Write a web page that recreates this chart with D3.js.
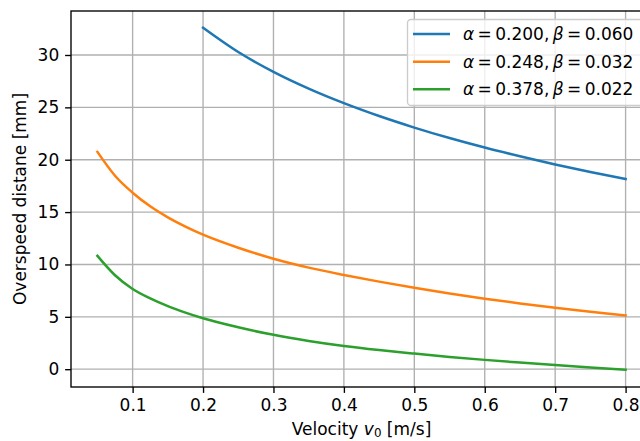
<!DOCTYPE html>
<html><head><meta charset="utf-8">
<script src="https://cdn.jsdelivr.net/npm/d3@7"></script>
<style>body{margin:0;background:#fff}svg{display:block}text{font-family:"DejaVu Sans",sans-serif;fill:#000}</style>
</head><body>
<svg id="c" width="640" height="441"></svg>
<script>
const xTicks = [0.1,0.2,0.3,0.4,0.5,0.6,0.7,0.8];
const yTicks = [0,5,10,15,20,25,30];
const blueV = [0.2,0.25,0.3,0.35,0.4,0.45,0.5,0.55,0.6,0.65,0.7,0.75,0.8];
const blueD = [32.6,30.28,28.39,26.79,25.4,24.17,23.07,22.07,21.16,20.33,19.55,18.82,18.15];
const orangeV = [0.05,0.075,0.1,0.125,0.15,0.175,0.2,0.25,0.3,0.35,0.4,0.45,0.5,0.55,0.6,0.65,0.7,0.75,0.8];
const orangeD = [20.75,18.47,16.85,15.55,14.5,13.62,12.85,11.6,10.55,9.7,9.0,8.36,7.77,7.23,6.73,6.28,5.87,5.49,5.13];
const greenV = [0.05,0.075,0.1,0.125,0.15,0.175,0.2,0.25,0.3,0.35,0.4,0.45,0.5,0.55,0.6,0.65,0.7,0.75,0.8];
const greenD = [10.82,8.97,7.66,6.76,6.02,5.4,4.86,4.0,3.28,2.7,2.22,1.83,1.49,1.17,0.89,0.63,0.39,0.16,-0.05];
const seriesColors = ["#1f77b4","#ff7f0e","#2ca02c"];
const alphas = ["0.200","0.248","0.378"];
const betas = ["0.060","0.032","0.022"];

const series = [
  {v: blueV, d: blueD},
  {v: orangeV, d: orangeD},
  {v: greenV, d: greenD}
];

const L = 71, R = 652, T = 11, B = 387;
const FS = 17;
const x = d3.scaleLinear().domain([0.0125, 0.8375]).range([L, R]);
const y = d3.scaleLinear().domain([-1.7, 34.2]).range([B, T]);
const svg = d3.select("#c");

svg.append("defs").append("clipPath").attr("id","clip")
  .append("rect").attr("x",L).attr("y",T).attr("width",R-L).attr("height",B-T);

// grid
const g = svg.append("g");
g.selectAll(".gx").data(xTicks).join("line")
  .attr("x1",d=>x(d)).attr("x2",d=>x(d)).attr("y1",T).attr("y2",B)
  .attr("stroke","#b0b0b0").attr("stroke-width",1.36);
g.selectAll(".gy").data(yTicks).join("line")
  .attr("y1",d=>y(d)).attr("y2",d=>y(d)).attr("x1",L).attr("x2",R)
  .attr("stroke","#b0b0b0").attr("stroke-width",1.36);

// axes
const xAxis = d3.axisBottom(x).tickValues(xTicks).tickSize(5.9).tickPadding(5.9).tickFormat(d3.format(".1f"));
const yAxis = d3.axisLeft(y).tickValues(yTicks).tickSize(5.9).tickPadding(5.9).tickFormat(d3.format("d"));
const gx = svg.append("g").attr("transform",`translate(0,${B})`).call(xAxis);
const gy = svg.append("g").attr("transform",`translate(${L},0)`).call(yAxis);
[gx,gy].forEach(a=>{
  a.select(".domain").remove();
  a.selectAll(".tick line").attr("stroke","#000").attr("stroke-width",1.36);
  a.selectAll(".tick text").attr("font-size",FS).attr("font-family","DejaVu Sans");
});

// lines
const line = d3.line().x(p=>x(p[0])).y(p=>y(p[1])).curve(d3.curveMonotoneX);
svg.append("g").attr("clip-path","url(#clip)")
  .selectAll("path").data(series).join("path")
  .attr("d", s => line(s.v.map((v,i)=>[v, s.d[i]])))
  .attr("fill","none").attr("stroke",(s,i)=>seriesColors[i]).attr("stroke-width",2.5)
  .attr("stroke-linecap","square").attr("stroke-linejoin","round");

// spines
svg.append("rect").attr("x",L).attr("y",T).attr("width",R-L).attr("height",B-T)
  .attr("fill","none").attr("stroke","#000").attr("stroke-width",1.36);

// labels
const xl = svg.append("text").attr("x",(L+R)/2).attr("y",434.5).attr("text-anchor","middle").attr("font-size",FS);
xl.append("tspan").text("Velocity ");
xl.append("tspan").attr("font-style","italic").text("v");
xl.append("tspan").attr("font-size",FS*0.7).attr("dy",2.5).text("0");
xl.append("tspan").attr("dy",-2.5).text(" [m/s]");

svg.append("text").attr("transform",`translate(25.5,${(T+B)/2}) rotate(-90)`)
  .attr("text-anchor","middle").attr("font-size",FS).text("Overspeed distane [mm]");

// legend
const lg = svg.append("g");
lg.append("rect").attr("x",407.5).attr("y",19.5).attr("width",236).attr("height",86).attr("rx",3.5)
  .attr("fill","#fff").attr("fill-opacity",0.8).attr("stroke","#cccccc").attr("stroke-width",1.36);
const rowsY = [34, 61.7, 89.3];
const sp = 0.2 * FS;
seriesColors.forEach((c,i)=>{
  lg.append("line").attr("x1",413).attr("x2",450).attr("y1",rowsY[i]).attr("y2",rowsY[i])
    .attr("stroke",c).attr("stroke-width",2.5);
  const t = lg.append("text").attr("x",463).attr("y",rowsY[i]+6).attr("font-size",FS);
  t.append("tspan").attr("font-style","italic").text("α");
  t.append("tspan").attr("dx",sp).text("=");
  t.append("tspan").attr("dx",sp).text(alphas[i] + ",");
  t.append("tspan").attr("dx",sp).attr("font-style","italic").text("β");
  t.append("tspan").attr("dx",sp).text("=");
  t.append("tspan").attr("dx",sp).text(betas[i]);
});
</script>
</body></html>
